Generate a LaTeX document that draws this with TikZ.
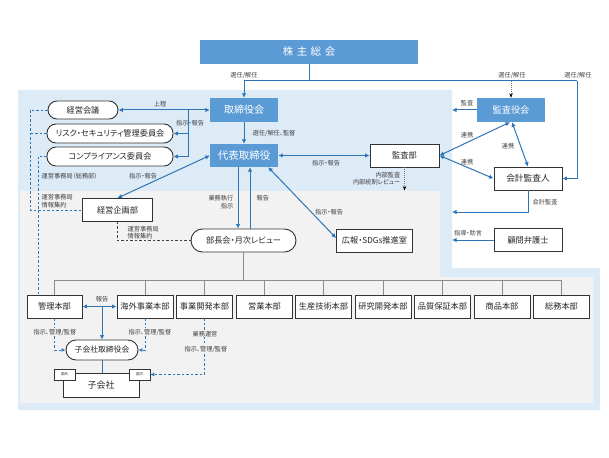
\documentclass[tikz,border=0pt]{standalone}
\usepackage{fontspec}
\setmainfont[RawFeature=+palt]{Noto Sans CJK JP}
\usetikzlibrary{arrows.meta}
\definecolor{boxblue}{HTML}{5B9BD5}
\definecolor{arrblue}{HTML}{2E75B6}
\definecolor{regblue}{HTML}{DDEBF7}
\definecolor{reggray}{HTML}{F2F2F2}
\definecolor{orggray}{HTML}{8C8C8C}
\definecolor{txtgray}{HTML}{404040}
\begin{document}
\begin{tikzpicture}[x=1pt,y=-1pt,
  bluebox/.style={fill=boxblue, text=white, inner sep=0pt, minimum width=68pt, minimum height=24pt, font=\fontsize{10}{12}\selectfont},
  wbox/.style={draw=black!80, fill=white, line width=0.9pt, inner sep=0pt, minimum height=23pt, font=\fontsize{8.2}{10}\selectfont, text=black!85},
  rbox/.style={wbox, rounded corners=9pt, minimum height=19pt},
  dept/.style={wbox, minimum width=56pt},
  lbl/.style={font=\fontsize{6.2}{7.4}\selectfont, text=txtgray, inner sep=0.5pt},
  bline/.style={draw=arrblue, line width=1pt},
  arr/.style={bline, -{Latex[length=4.5pt,width=4.5pt]}},
  darr/.style={bline, {Latex[length=4.5pt,width=4.5pt]}-{Latex[length=4.5pt,width=4.5pt]}},
  bdash/.style={draw=arrblue, line width=0.8pt, dash pattern=on 2.5pt off 2pt},
  bdasharr/.style={bdash, -{Latex[length=4pt,width=4pt]}},
  kdash/.style={draw=black!75, line width=0.8pt, dash pattern=on 2.5pt off 2pt},
  dotarr/.style={draw=black!55, line width=0.7pt, dash pattern=on 1pt off 1pt, -{Stealth[length=4.5pt,width=3.5pt,color=black]}},
  org/.style={draw=orggray, line width=0.7pt},
]
\useasboundingbox (0,0) rectangle (609,457);
% regions
\fill[regblue] (18,90) -- (452,90) -- (452,268) -- (600,268) -- (600,410) -- (18,410) -- cycle;
\fill[reggray] (20,191) -- (440,191) -- (440,277) -- (593,277) -- (593,403) -- (20,403) -- cycle;

% nodes
\node[bluebox, minimum width=218pt, font=\fontsize{10.5}{12}\selectfont] (sh) at (309,52) {株\hspace{3.5pt}主\hspace{3.5pt}総\hspace{3.5pt}会};
\node[bluebox] (bod) at (244,110) {取締役会};
\node[bluebox, minimum height=23pt, font=\fontsize{10.5}{12}\selectfont] (ceo) at (244,155.5) {代表取締役};
\node[bluebox, font=\fontsize{9.2}{11}\selectfont] (ksy) at (511,110) {監査役会};
\node[wbox, minimum width=69pt] (ksb) at (404.5,155.5) {監査部};
\node[wbox, minimum width=68pt, font=\fontsize{8.7}{10}\selectfont] (kai) at (528,178.5) {会計監査人};
\node[wbox, minimum width=68pt] (kom) at (528,240) {顧問弁護士};
\node[rbox, minimum width=70pt, minimum height=18pt] (kk) at (83,110) {経営会議};
\node[rbox, minimum width=126pt] (risk) at (110,133.5) {リスク・セキュリティ管理委員会};
\node[rbox, minimum width=126pt] (comp) at (110,156.5) {コンプライアンス委員会};
\node[wbox, minimum width=70pt] (kik) at (117.5,210) {経営企画部};
\node[wbox, rounded corners=11.5pt, minimum width=105pt] (bch) at (243.5,240.5) {部長会・月次レビュー};
\node[wbox, minimum width=76pt] (koho) at (374.5,240.5) {広報・SDGs推進室};

\node[dept, minimum width=55pt] (d1) at (54.5,306.5) {管理本部};
\node[dept] (d2) at (145,306.5) {海外事業本部};
\node[dept] (d3) at (204.5,306.5) {事業開発本部};
\node[dept] (d4) at (264.5,306.5) {営業本部};
\node[dept] (d5) at (323.5,306.5) {生産技術本部};
\node[dept] (d6) at (383,306.5) {研究開発本部};
\node[dept] (d7) at (442.5,306.5) {品質保証本部};
\node[dept] (d8) at (502,306.5) {商品本部};
\node[dept] (d9) at (561.5,306.5) {総務本部};

\node[wbox, rounded corners=10pt, minimum width=72pt, minimum height=20pt, font=\fontsize{7.8}{9}\selectfont] (sb) at (102,350) {子会社取締役会};
\node[wbox, minimum width=76pt, minimum height=24pt, font=\fontsize{9}{10}\selectfont] (sub) at (101,385.5) {子会社};
\node[wbox, line width=0.6pt, minimum width=21pt, minimum height=11pt, font=\fontsize{3.5}{4}\selectfont] (gai) at (64.5,374.5) {国外};
\node[wbox, line width=0.6pt, minimum width=21pt, minimum height=11pt, font=\fontsize{3.5}{4}\selectfont] (nai) at (139.5,374.5) {国内};

% shareholders lines
\coordinate (jl) at (244,81);
\coordinate (jm) at (511,81);
\coordinate (jr) at (577,81);
\draw[bline] (sh.south) -- (sh.south |- jl);
\draw[bline] (jl) -- (jr);
\draw[arr] (jl) -- (bod.north);
\draw[arr] (jr) |- (kai.east);
\draw[dotarr] (jm) -- (ksy.north);
\node[lbl] at (244,75) {選任/解任};
\node[lbl] at (512,75) {選任/解任};
\node[lbl] at (578,75) {選任/解任};

% board to ceo
\draw[arr] (bod.south) -- (ceo.north);
\node[lbl, anchor=west] at (252,133) {選任/解任、監督};

% committees
\draw[darr] (kk.east) -- (bod.west);
\node[lbl] at (160,104.5) {上程};
\coordinate (br) at (188,110);
\draw[arr] (br) |- (risk.east);
\draw[arr] (br) |- (comp.east);
\node[lbl] at (190,123) {指示・報告};

% ceo connections
\draw[darr] (kik.north) -- (ceo.west);
\node[lbl] at (143,176) {指示・報告};
\draw[darr] (ceo.east) -- (ksb.west);
\node[lbl] at (326,163) {指示・報告};
\draw[arr] ([xshift=-6pt]ceo.south) -- ([xshift=-6pt]ceo.south |- bch.north);
\draw[arr] ([xshift=6pt]ceo.south |- bch.north) -- ([xshift=6pt]ceo.south);
\node[lbl, anchor=east, align=right] at (234,202) {業務執行\\指示};
\node[lbl, anchor=west] at (256,198) {報告};
\draw[darr] ([xshift=-10pt]ceo.south east) -- ([yshift=2.5pt]koho.west);
\node[lbl] at (329,212) {指示・報告};

% audit dept
\draw[dotarr] (ksb.south) -- ++(0,23);
\node[lbl, anchor=east, align=right] at (401,178.5) {内部監査\\内部統制レビュー};

% audit board
\coordinate (ka) at (452,110);
\draw[arr] (ksy.west) -- (ka);
\node[lbl] at (467,103) {監査};
\draw[darr] (ksb.east) -- ([xshift=-1pt]ksy.south);
\node[lbl] at (467,135) {連携};
\draw[darr] (ksb.east) -- (kai.west);
\node[lbl] at (467,162) {連携};
\draw[darr] ([xshift=1pt]ksy.south) -- (kai.north);
\node[lbl] at (508,146) {連携};
\coordinate (kb) at (452,212);
\draw[arr] (kai.south) |- (kb);
\node[lbl, anchor=west] at (532,202) {会計監査};
\coordinate (kc) at (452,240);
\draw[arr] (kom.west) -- (kc);
\node[lbl] at (468,233) {指導・助言};

% left dashed
\coordinate (dl1) at (30,110);
\draw[bdash] (kk.west) -- (dl1) |- (kik.west);
\draw[bdash] (risk.west) -- (risk.west -| dl1);
\coordinate (dl2) at (38,156.5);
\draw[bdash] (comp.west) -- (dl2) -- (dl2 |- d1.north);
\node[lbl, anchor=west] at (41,176) {運営事務局（総務部）};
\node[lbl, anchor=west, align=left] at (41,201) {運営事務局\\情報集約};
\draw[kdash] (kik.south) |- (bch.west);
\node[lbl, anchor=west, align=left] at (127,232.5) {運営事務局\\情報集約};

% org tree
\coordinate (t) at (243.5,280);
\draw[org] (bch.south) -- (t);
\draw[org] (d1.north |- t) -- (d9.north |- t);
\foreach \d in {d1,d2,d3,d4,d5,d6,d7,d8,d9} {\draw[org] (\d.north |- t) -- (\d.north);}

% subsidiaries
\draw[darr] (d1.east) -- (d2.west);
\coordinate (rj) at (102,306.5);
\draw[arr] (rj) -- (sb.north);
\node[lbl] at (102,299) {報告};
\draw[bdasharr] (d1.south) |- (sb.west);
\node[lbl, fill=reggray] at (55,332) {指示、管理/監督};
\draw[bdasharr] (d2.south) |- (sb.east);
\node[lbl, fill=reggray] at (150,332) {指示、管理/監督};
\draw[bdasharr] (d3.south) |- (nai.east);
\node[lbl, fill=reggray] at (205,334) {業務運営};
\node[lbl, fill=reggray] at (206,349) {指示、管理/監督};
\draw[bline] (sb.south) -- (sb.south |- sub.north);
\end{tikzpicture}
\end{document}
